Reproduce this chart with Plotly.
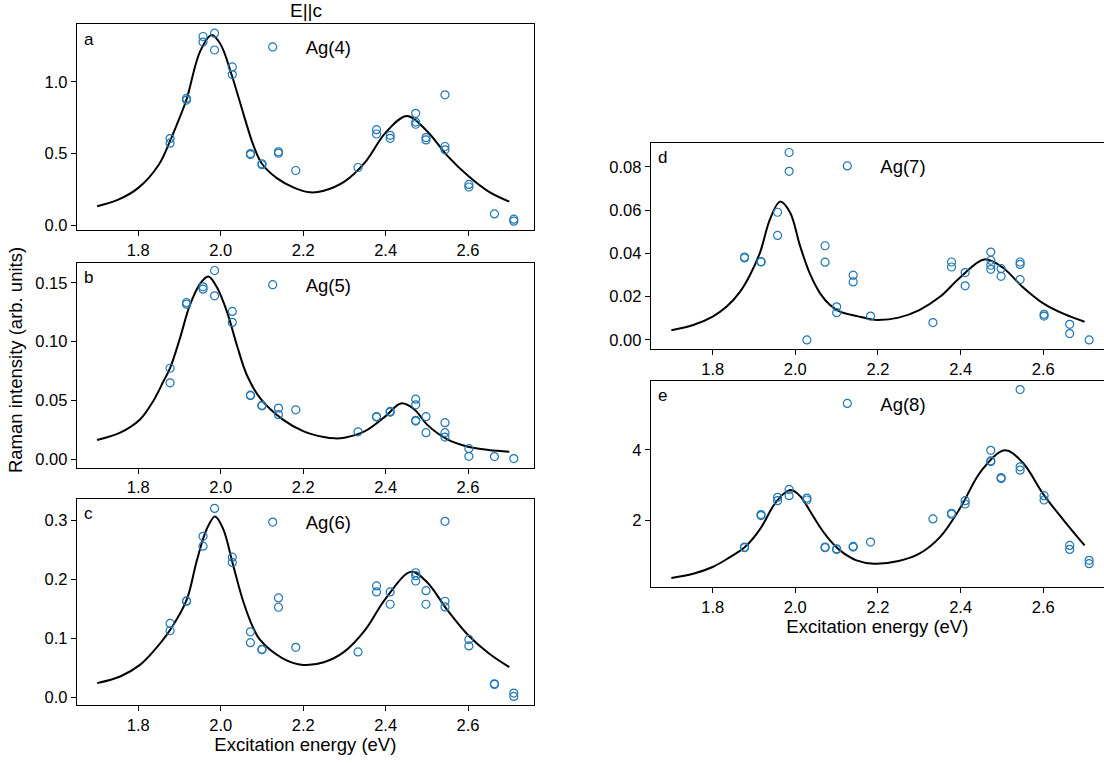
import plotly.graph_objects as go

FONT = "Liberation Sans, Arial, sans-serif"
BLUE = "#1f77b4"

# Excitation energies (eV) shared by all panels
energy = [1.877, 1.917, 1.957, 1.985, 2.028, 2.072, 2.100, 2.140, 2.182,
          2.333, 2.378, 2.411, 2.473, 2.498, 2.544, 2.602, 2.664, 2.711]

# Measured intensities, one list per excitation energy
ag4_vals = [[0.605, 0.573], [0.885, 0.873], [1.316, 1.277], [1.339, 1.222],
            [1.104, 1.051], [0.501, 0.494], [0.430, 0.423], [0.513, 0.503],
            [0.383], [0.404], [0.667, 0.637], [0.628, 0.607],
            [0.781, 0.720, 0.705], [0.612, 0.596], [0.910, 0.550, 0.527],
            [0.286, 0.268], [0.081], [0.044, 0.030]]
ag5_vals = [[0.0774, 0.0650], [0.1333, 0.1319], [0.1466, 0.1446], [0.1605, 0.1390],
            [0.1257, 0.1164], [0.0545, 0.0542], [0.0458, 0.0455], [0.0435, 0.0379],
            [0.0421], [0.0234], [0.0362, 0.0359], [0.0407, 0.0401],
            [0.0511, 0.0463, 0.0331, 0.0325], [0.0362, 0.0226],
            [0.0311, 0.0226, 0.0189], [0.0090, 0.0025], [0.0023], [0.0006]]
ag6_vals = [[0.1252, 0.1128], [0.1636, 0.1630], [0.2735, 0.2566], [0.3209],
            [0.2380, 0.2290], [0.1110, 0.0925], [0.0812, 0.0806], [0.1686, 0.1528],
            [0.0846], [0.0767], [0.1890, 0.1788], [0.1788, 0.1579],
            [0.2115, 0.2064, 0.1974], [0.1810, 0.1579], [0.2990, 0.1630, 0.1534],
            [0.0981, 0.0869], [0.0226, 0.0214], [0.0068, 0.0011]]
ag7_vals = [[0.0383, 0.0379], [0.0362, 0.0360], [0.0590, 0.0483], [0.0866, 0.0779],
            [0.0000], [0.0435, 0.0359], [0.0153, 0.0126], [0.0299, 0.0268],
            [0.0110], [0.0080], [0.0360, 0.0337], [0.0311, 0.0250],
            [0.0406, 0.0368, 0.0345, 0.0326], [0.0329, 0.0294],
            [0.0360, 0.0349, 0.0279], [0.0118, 0.0110], [0.0072, 0.0029], [0.0000]]
ag8_vals = [[1.249, 1.230], [2.169, 2.141], [2.657, 2.563], [2.883, 2.704],
            [2.638, 2.582], [1.249, 1.230], [1.202, 1.183], [1.268, 1.249],
            [1.390], [2.047], [2.207, 2.178], [2.563, 2.469],
            [3.990, 3.690, 3.670], [3.220, 3.190], [5.709, 3.521, 3.427],
            [2.704, 2.582], [1.296, 1.183], [0.873, 0.779]]

# Fitted curves
ag4_fit_x = [1.70, 1.75, 1.80, 1.85, 1.877, 1.90, 1.917, 1.95, 1.978, 2.00, 2.025, 2.047,
             2.079, 2.10, 2.136, 2.176, 2.216, 2.25, 2.30, 2.35, 2.40, 2.452, 2.50, 2.55,
             2.60, 2.65, 2.70]
ag4_fit_y = [0.134, 0.178, 0.262, 0.425, 0.589, 0.750, 0.877, 1.212, 1.326, 1.259, 1.062,
             0.855, 0.560, 0.430, 0.330, 0.266, 0.231, 0.242, 0.305, 0.439, 0.647, 0.762,
             0.658, 0.485, 0.346, 0.236, 0.166]
ag5_fit_x = [1.70, 1.756, 1.804, 1.836, 1.861, 1.877, 1.901, 1.925, 1.950, 1.970, 1.990,
             2.015, 2.039, 2.063, 2.095, 2.15, 2.20, 2.25, 2.277, 2.30, 2.35, 2.40, 2.437,
             2.47, 2.50, 2.55, 2.60, 2.65, 2.70]
ag5_fit_y = [0.0164, 0.0226, 0.0338, 0.0494, 0.0663, 0.0775, 0.1029, 0.1310, 0.1494,
             0.1554, 0.1466, 0.1255, 0.0972, 0.0719, 0.0522, 0.0339, 0.0240, 0.0189,
             0.0178, 0.0184, 0.0240, 0.0367, 0.0475, 0.0424, 0.0297, 0.0169, 0.0107,
             0.0079, 0.0065]
ag6_fit_x = [1.70, 1.756, 1.804, 1.836, 1.877, 1.917, 1.942, 1.966, 1.986, 2.006, 2.030,
             2.055, 2.079, 2.095, 2.15, 2.20, 2.25, 2.30, 2.35, 2.40, 2.462, 2.50, 2.55,
             2.60, 2.65, 2.70]
ag6_fit_y = [0.0237, 0.0350, 0.0548, 0.0773, 0.1140, 0.1647, 0.2324, 0.2858, 0.3073,
             0.2858, 0.2244, 0.1618, 0.1174, 0.0976, 0.0660, 0.0547, 0.0592, 0.0773,
             0.1139, 0.1675, 0.2132, 0.1957, 0.1478, 0.1055, 0.0744, 0.0508]
ag7_fit_x = [1.70, 1.753, 1.80, 1.834, 1.866, 1.890, 1.915, 1.939, 1.963, 1.987, 2.011,
             2.035, 2.060, 2.084, 2.108, 2.15, 2.183, 2.20, 2.25, 2.30, 2.35, 2.40, 2.457,
             2.50, 2.55, 2.60, 2.65, 2.70]
ag7_fit_y = [0.0045, 0.0069, 0.0108, 0.0154, 0.0222, 0.0299, 0.0406, 0.0559, 0.0639,
             0.0590, 0.0437, 0.0307, 0.0215, 0.0161, 0.0131, 0.0110, 0.0095, 0.0092,
             0.0103, 0.0138, 0.0199, 0.0291, 0.0372, 0.0337, 0.0245, 0.0169, 0.0120,
             0.0084]
ag8_fit_x = [1.70, 1.753, 1.80, 1.842, 1.878, 1.915, 1.947, 1.971, 1.989, 2.011, 2.035,
             2.060, 2.084, 2.108, 2.148, 2.19, 2.25, 2.30, 2.35, 2.40, 2.45, 2.507, 2.55,
             2.60, 2.65, 2.70]
ag8_fit_y = [0.375, 0.496, 0.685, 0.966, 1.248, 1.763, 2.420, 2.750, 2.862, 2.700, 2.280,
             1.810, 1.437, 1.155, 0.873, 0.779, 0.854, 1.061, 1.530, 2.376, 3.408, 3.991,
             3.643, 2.751, 2.000, 1.296]

names = ["Ag(4)", "Ag(5)", "Ag(6)", "Ag(7)", "Ag(8)"]
letters = ["a", "b", "c", "d", "e"]
y_ticks = [[0.0, 0.5, 1.0], [0.0, 0.05, 0.10, 0.15], [0.0, 0.1, 0.2, 0.3],
           [0.0, 0.02, 0.04, 0.06, 0.08], [2, 4]]
y_fmt = [".1f", ".2f", ".1f", ".2f", "d"]
x_ticks = [1.8, 2.0, 2.2, 2.4, 2.6]

vals = [ag4_vals, ag5_vals, ag6_vals, ag7_vals, ag8_vals]
fits = [(ag4_fit_x, ag4_fit_y), (ag5_fit_x, ag5_fit_y), (ag6_fit_x, ag6_fit_y),
        (ag7_fit_x, ag7_fit_y), (ag8_fit_x, ag8_fit_y)]

W, H = 1104, 763
TICK = 16.5
LABEL = 18.5
# layout in pixels: (left, right, top, bottom)
boxes = [(76.7, 534, 24.3, 231.7), (76.7, 534, 264, 470), (76.7, 534, 501.7, 709),
         (650.7, 1104, 143.3, 351), (650.7, 1104, 382.7, 590)]
x_ranges = [[1.6505, 2.760]] * 3 + [[1.650, 2.747]] * 2
y_ranges = [[-0.0346, 1.4017], [-0.0070, 0.1672], [-0.0140, 0.3368],
            [-0.00428, 0.0912], [0.121, 5.961]]

fig = go.Figure()
layout = dict(width=W, height=H, margin=dict(l=0, r=0, t=0, b=0),
              paper_bgcolor="white", plot_bgcolor="white",
              font=dict(family=FONT, size=TICK, color="black"),
              annotations=[])

for i in range(5):
    suf = "" if i == 0 else str(i + 1)
    xa, ya = "x" + suf, "y" + suf
    xs, ys = [], []
    for e, vv in zip(energy, vals[i]):
        for v in vv:
            xs.append(e)
            ys.append(v)
    leg = "legend" + suf
    fig.add_trace(go.Scatter(x=fits[i][0], y=fits[i][1], mode="lines",
                             line=dict(color="black", width=2, shape="spline", smoothing=1.0),
                             xaxis=xa, yaxis=ya, showlegend=False, hoverinfo="skip"))
    fig.add_trace(go.Scatter(x=xs, y=ys, mode="markers", name=names[i],
                             marker=dict(symbol="circle-open", size=8, color=BLUE,
                                         line=dict(width=1.2, color=BLUE)),
                             xaxis=xa, yaxis=ya, legend=leg))
    l, r, t, b = boxes[i]
    common = dict(showline=True, linecolor="black", linewidth=1,
                  ticks="outside", ticklen=5, tickwidth=1, tickcolor="black",
                  showgrid=False, zeroline=False,
                  tickfont=dict(family=FONT, size=TICK, color="black"))
    xdict = dict(common, mirror=True, domain=[l / W, r / W], range=x_ranges[i], anchor=ya,
                 tickvals=x_ticks, tickformat=".1f")
    ydict = dict(common, mirror=(i < 3), domain=[1 - b / H, 1 - t / H], range=y_ranges[i],
                 anchor=xa, tickvals=y_ticks[i], tickformat=y_fmt[i])
    if i in (2, 4):
        xdict["title"] = dict(text="Excitation energy (eV)", standoff=4,
                              font=dict(family=FONT, size=LABEL, color="black"))
    layout["xaxis" + suf] = xdict
    layout["yaxis" + suf] = ydict
    # panel letter
    layout["annotations"].append(dict(text=letters[i], xref="paper", yref="paper",
                                      x=(l + 5) / W, y=1 - (t + 15) / H,
                                      xanchor="left", yanchor="middle", showarrow=False,
                                      font=dict(family=FONT, size=17, color="black")))
    # legend placement
    mx = 272.7 if i < 3 else 847.3
    my = [47.7, 286.7, 525.3, 167.3, 406][i]
    layout[leg] = dict(x=(mx - 33) / W, y=1 - my / H, xanchor="left", yanchor="middle",
                       bgcolor="rgba(0,0,0,0)", borderwidth=0, itemwidth=56,
                       font=dict(family=FONT, size=LABEL, color="black"))

layout["annotations"].append(dict(text="E||c", xref="paper", yref="paper",
                                  x=305.5 / W, y=1 - 11 / H, xanchor="center",
                                  yanchor="middle", showarrow=False,
                                  font=dict(family=FONT, size=19, color="black")))
layout["annotations"].append(dict(text="Raman intensity (arb. units)", xref="paper",
                                  yref="paper", x=15 / W, y=1 - 362 / H, textangle=-90,
                                  xanchor="center", yanchor="middle", showarrow=False,
                                  font=dict(family=FONT, size=LABEL, color="black")))

fig.update_layout(**layout)
fig.write_html("out.html")
